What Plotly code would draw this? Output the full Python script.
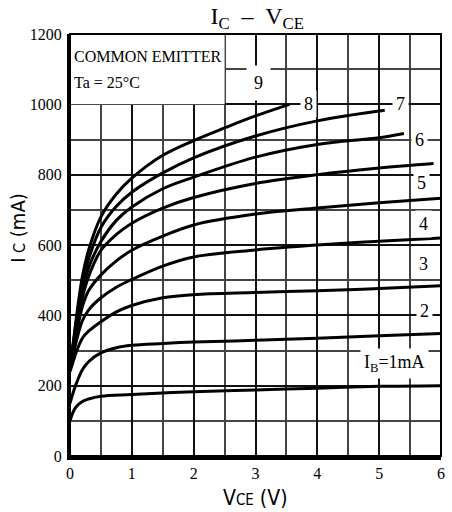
import plotly.graph_objects as go

# ---- data ----
vce_common = [0, 0.05, 0.1, 0.2, 0.3, 0.5, 0.75, 1, 1.5, 2, 3, 4, 5, 6]

ib1_v = [0, 0.05, 0.1, 0.2, 0.3, 0.5, 1, 2, 3, 4, 5, 6]
ib1_i = [100, 125, 140, 155, 162, 170, 175, 183, 188, 193, 198, 200]

ib2_v = vce_common
ib2_i = [150, 180, 205, 245, 268, 293, 308, 315, 320, 324, 329, 335, 342, 348]

ib3_v = vce_common
ib3_i = [240, 268, 295, 335, 355, 382, 410, 428, 450, 459, 465, 470, 476, 484]

ib4_v = vce_common
ib4_i = [255, 285, 325, 385, 415, 450, 480, 502, 540, 566, 586, 600, 611, 620]

ib5_v = vce_common
ib5_i = [262, 300, 345, 425, 470, 515, 555, 585, 625, 657, 688, 705, 720, 733]

ib6_v = [0, 0.05, 0.1, 0.2, 0.3, 0.5, 0.75, 1, 1.5, 2, 3, 4, 5, 5.88]
ib6_i = [264, 305, 358, 450, 510, 585, 630, 662, 705, 735, 775, 800, 819, 832]

ib7_v = [0, 0.05, 0.1, 0.2, 0.3, 0.5, 0.75, 1, 1.5, 2, 3, 4, 5, 5.4]
ib7_i = [266, 310, 370, 470, 535, 610, 670, 708, 760, 793, 850, 886, 905, 917]

ib8_v = [0, 0.05, 0.1, 0.2, 0.3, 0.5, 0.75, 1, 1.5, 2, 3, 4, 5.09]
ib8_i = [268, 315, 380, 490, 560, 650, 710, 750, 805, 848, 910, 953, 983]

ib9_v = [0, 0.05, 0.1, 0.2, 0.3, 0.5, 0.75, 1, 1.5, 2, 2.5, 3, 3.55]
ib9_i = [270, 320, 390, 510, 585, 680, 745, 790, 855, 897, 933, 967, 1000]

curves = [(ib1_v, ib1_i), (ib2_v, ib2_i), (ib3_v, ib3_i), (ib4_v, ib4_i),
          (ib5_v, ib5_i), (ib6_v, ib6_i), (ib7_v, ib7_i), (ib8_v, ib8_i),
          (ib9_v, ib9_i)]

# curve labels (text, V, I)
label_text = ["I<sub>B</sub>=1mA", "2", "3", "4", "5", "6", "7", "8", "9"]
label_v = [5.25, 5.74, 5.72, 5.72, 5.69, 5.66, 5.34, 3.85, 3.05]
label_i = [262, 411, 547, 659, 777, 898, 1000, 1000, 1062]

x_ticks = [0, 1, 2, 3, 4, 5, 6]
y_ticks = [0, 200, 400, 600, 800, 1000, 1200]

SERIF = "Liberation Serif, Times New Roman, serif"
NARROW = "Liberation Sans Narrow, DejaVu Sans Condensed, Arial Narrow, sans-serif"

fig = go.Figure()
for v, i in curves:
    fig.add_trace(go.Scatter(x=v, y=i, mode="lines",
                             line=dict(color="black", width=3, shape="spline", smoothing=1.0),
                             hoverinfo="skip", showlegend=False))

# white box behind the "COMMON EMITTER" note (covers gridlines)
fig.add_shape(type="rect", xref="x", yref="y", x0=0, x1=2.5, y0=1000, y1=1200,
              fillcolor="white", line=dict(width=0), layer="between")
# frame top/right
fig.add_shape(type="rect", xref="paper", yref="paper", x0=0, x1=1, y0=0, y1=1,
              line=dict(color="black", width=2), layer="above")

for t, v, i in zip(label_text, label_v, label_i):
    big = t == "9"
    fig.add_annotation(x=v, y=i, xref="x", yref="y", text=t, showarrow=False,
                       font=dict(family=SERIF, size=18, color="black"),
                       bgcolor="white", borderpad=7 if big else 3)

fig.add_annotation(x=0.04, y=1136, xref="x", yref="y", text="COMMON EMITTER",
                   showarrow=False, xanchor="left",
                   font=dict(family=SERIF, size=16, color="black"))
fig.add_annotation(x=0.04, y=1062, xref="x", yref="y", text="Ta = 25°C",
                   showarrow=False, xanchor="left",
                   font=dict(family=SERIF, size=16, color="black"))

# axis titles
fig.add_annotation(x=0.499, y=-0.1, xref="paper", yref="paper",
                   xanchor="center", yanchor="middle",
                   text="V<span style='font-size:15px'>CE</span> (V)", showarrow=False,
                   font=dict(family=NARROW, size=21, color="black"))
fig.add_annotation(x=-0.141, y=0.54, xref="paper", yref="paper", textangle=-90,
                   xanchor="center", yanchor="middle",
                   text="I<span style='font-size:16px'> C</span> (mA)", showarrow=False,
                   font=dict(family=NARROW, size=20, color="black"))

fig.update_layout(
    width=452, height=512,
    margin=dict(l=70, r=7, t=34, b=56),
    paper_bgcolor="white", plot_bgcolor="white",
    title=dict(text="I<sub>C</sub>  –  V<sub>CE</sub>", x=0.569, xanchor="center",
               y=0.969, yanchor="middle",
               font=dict(family=SERIF, size=24, color="black")),
    showlegend=False,
)
fig.update_xaxes(range=[0, 6], tickvals=x_ticks, ticks="",
                 showgrid=True, gridcolor="#111", gridwidth=1.8,
                 minor=dict(dtick=0.5, showgrid=True, gridcolor="#444", gridwidth=1.5),
                 showline=True, linecolor="black", linewidth=4, zeroline=False,
                 tickfont=dict(family=SERIF, size=16, color="black"))
fig.update_yaxes(range=[0, 1200], tickvals=y_ticks, ticks="",
                 showgrid=True, gridcolor="#111", gridwidth=1.8,
                 minor=dict(dtick=100, showgrid=True, gridcolor="#444", gridwidth=1.5),
                 showline=True, linecolor="black", linewidth=3, zeroline=False,
                 ticklabelstandoff=2,
                 tickfont=dict(family=SERIF, size=16, color="black"))

fig.write_html("out.html", config={"displayModeBar": False},
               post_script="document.body.style.margin='0';document.body.style.padding='0';")
